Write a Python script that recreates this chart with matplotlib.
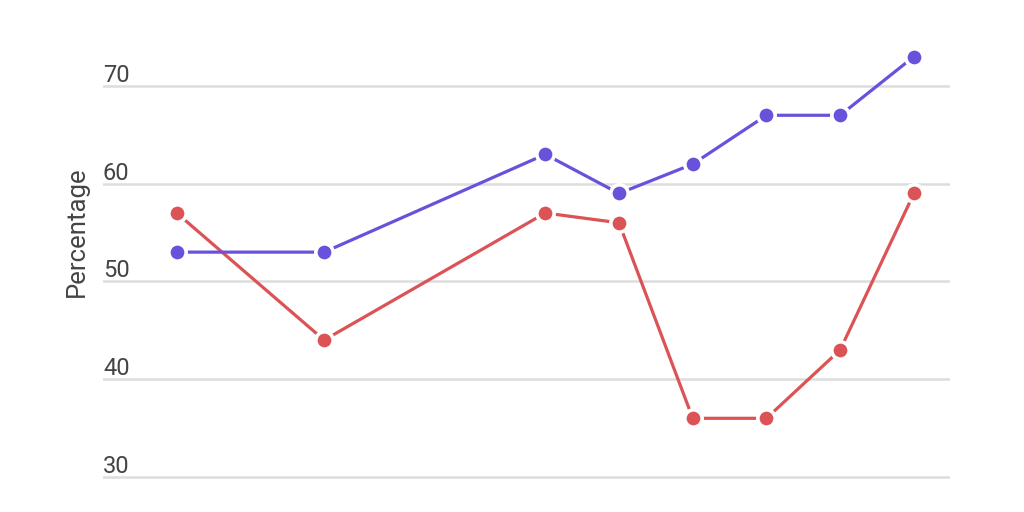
import matplotlib
matplotlib.use('Agg')
import matplotlib.pyplot as plt

# x positions (unevenly spaced), no labels shown on the chart
x_vals = [0, 2, 5, 6, 7, 8, 9, 10]
blue_vals = [53, 53, 63, 59, 62, 67, 67, 73]
red_vals = [57, 44, 57, 56, 36, 36, 43, 59]
y_ticks = [30, 40, 50, 60, 70]

plt.rcParams['font.family'] = ['Roboto', 'DejaVu Sans']

fig = plt.figure(figsize=(10.24, 5.12), dpi=100)
ax = fig.add_axes([103 / 1024, 1 - 496.5 / 512, (950 - 103) / 1024, (496.5 - 27.3) / 512])

blue = '#6a51dc'
red = '#dc5355'
for vals, col in [(red_vals, red), (blue_vals, blue)]:
    ax.plot(x_vals, vals, color=col, lw=2.3, marker='o', ms=12.5,
            mfc=col, mec='white', mew=2.6, zorder=3, solid_capstyle='butt')

ax.set_xlim(-1.0, 10.49)
ax.set_ylim(28, 76)
ax.set_yticks(y_ticks)
ax.set_xticks([])
ax.tick_params(left=False, labelleft=False)
ax.grid(axis='y', color='#dddddd', lw=1.8)
ax.set_axisbelow(True)
for s in ax.spines.values():
    s.set_visible(False)

for t in y_ticks:
    ax.text(0.0, t + 0.42, str(t), transform=ax.get_yaxis_transform(),
            ha='left', va='baseline', fontsize=17, color='#444444')

fig.text(77 / 1024, 1 - 232 / 512, 'Percentage', rotation=90, ha='center', va='center',
         fontsize=18.5, color='#444444')

fig.savefig('out.png', dpi=100)
